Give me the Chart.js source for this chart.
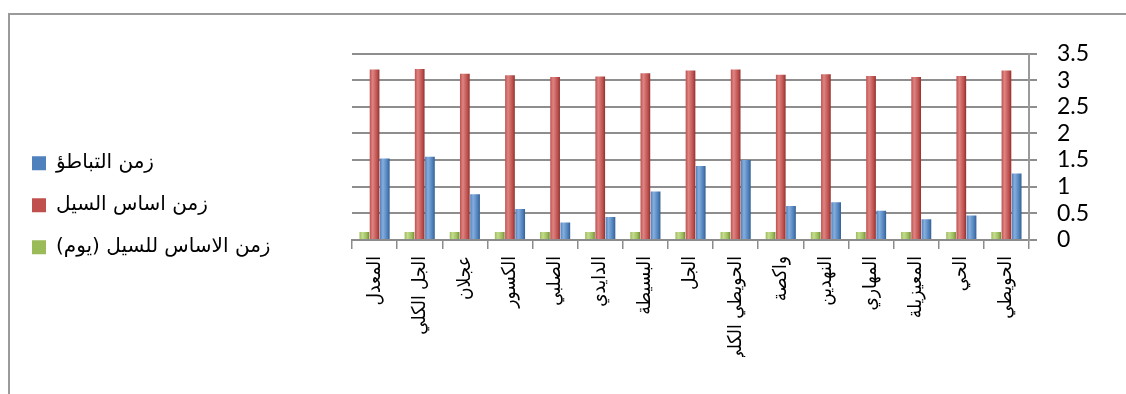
<!DOCTYPE html>
<html>
<head>
<meta charset="utf-8">
<script src="https://cdn.jsdelivr.net/npm/chart.js@4/dist/chart.umd.min.js"></script>
<style>
  html, body { margin: 0; padding: 0; background: #fff; }
  #wrap { position: relative; width: 1126px; height: 394px; }
  #frame { position: absolute; left: 8px; top: 13px; right: 0; bottom: 0;
           border-top: 2px solid #9a9a9a; border-left: 2px solid #9a9a9a; }
  canvas { position: absolute; left: 0; top: 0; }
</style>
</head>
<body>
<div id="wrap">
  <div id="frame"></div>
  <canvas id="myChart" width="1126" height="394"></canvas>
</div>
<script>
// categories (stations)
const categories = ['المعدل', 'الجل الكلي', 'عجلان', 'الكسور', 'الصلبي', 'الدايدي', 'البسيطة', 'الجل',
    'الحويطي الكلي', 'واكصة', 'النهدين', 'المهاري', 'المعيزيلة', 'الحي', 'الحويطي'];

// series
const baseTimeDays = [0.15, 0.15, 0.15, 0.15, 0.15, 0.15, 0.15, 0.15, 0.15, 0.15, 0.15, 0.15, 0.15, 0.15, 0.15];
const floodBaseTime = [3.20, 3.21, 3.12, 3.09, 3.06, 3.07, 3.13, 3.18, 3.20, 3.10, 3.11, 3.08, 3.06, 3.08, 3.18];
const lagTime = [1.53, 1.56, 0.86, 0.58, 0.33, 0.43, 0.91, 1.39, 1.50, 0.64, 0.71, 0.55, 0.39, 0.46, 1.25];

const seriesNames = ['زمن الاساس للسيل (يوم)', 'زمن اساس السيل', 'زمن التباطؤ'];

// cylinder-ish shading across each bar
function shade(base, light, dark) {
    return (c) => {
        const el = c.element;
        if (!el || !isFinite(el.x) || !el.width) return base;
        const g = c.chart.ctx.createLinearGradient(el.x - el.width / 2, 0, el.x + el.width / 2, 0);
        g.addColorStop(0, base);
        g.addColorStop(0.3, light);
        g.addColorStop(0.75, base);
        g.addColorStop(1, dark);
        return g;
    };
}

const legendWidth = {
    id: 'legendWidth',
    beforeInit(chart) {
        const fit = chart.legend.fit;
        chart.legend.fit = function () {
            fit.bind(chart.legend)();
            this.width = 342;
        };
    }
};

const ctx = document.getElementById('myChart').getContext('2d');
// eslint-disable-next-line no-undef
const chart = new Chart(ctx, {
    type: 'bar',
    data: {
        labels: categories,
        datasets: [{
            label: seriesNames[0],
            data: baseTimeDays,
            backgroundColor: shade('#9BBB59', '#C4DC8E', '#6F8A37')
        }, {
            label: seriesNames[1],
            data: floodBaseTime,
            backgroundColor: shade('#C0504D', '#DC8583', '#8C3331')
        }, {
            label: seriesNames[2],
            data: lagTime,
            backgroundColor: shade('#4F81BD', '#86AEDD', '#35608F')
        }]
    },
    options: {
        responsive: false,
        animation: false,
        layout: { padding: { left: 10, top: 53.5, right: 0, bottom: 37 } },
        datasets: { bar: { barPercentage: 0.95, categoryPercentage: 0.68 } },
        plugins: {
            tooltip: { enabled: false },
            legend: {
                position: 'left',
                reverse: true,
                labels: {
                    color: '#000',
                    font: { family: 'DejaVu Sans', size: 20 },
                    boxWidth: 14,
                    boxHeight: 14,
                    padding: 22,
                    generateLabels(ch) {
                        const cols = ['#9BBB59', '#C0504D', '#4F81BD'];
                        return ch.data.datasets.map((d, i) => ({
                            text: d.label, fillStyle: cols[i], strokeStyle: cols[i],
                            lineWidth: 0, datasetIndex: i, fontColor: '#000'
                        }));
                    }
                }
            }
        },
        scales: {
            x: {
                afterFit(s) { s.height = 117; },
                grid: { offset: true, drawOnChartArea: false, drawTicks: true, tickLength: 9, color: '#8c8c8c', lineWidth: 1.5 },
                border: { display: true, color: '#8c8c8c', width: 2 },
                ticks: {
                    autoSkip: false, minRotation: 90, maxRotation: 90, padding: 7,
                    color: '#000', font: { family: 'DejaVu Sans Condensed, DejaVu Sans', size: 19 }
                }
            },
            y: {
                position: 'right',
                min: 0,
                max: 3.5,
                afterFit(s) { s.width = 97; },
                grid: { display: true, drawOnChartArea: true, drawTicks: true, color: '#8e8e8e', lineWidth: 2, tickLength: 8 },
                border: { display: true, color: '#9a9a9a', width: 2 },
                ticks: {
                    stepSize: 0.5, autoSkip: false, padding: 20, color: '#000',
                    font: { family: 'Lato', size: 23 },
                    callback: (v) => String(v)
                }
            }
        }
    },
    plugins: [legendWidth]
});
chart.update();
</script>
</body>
</html>
